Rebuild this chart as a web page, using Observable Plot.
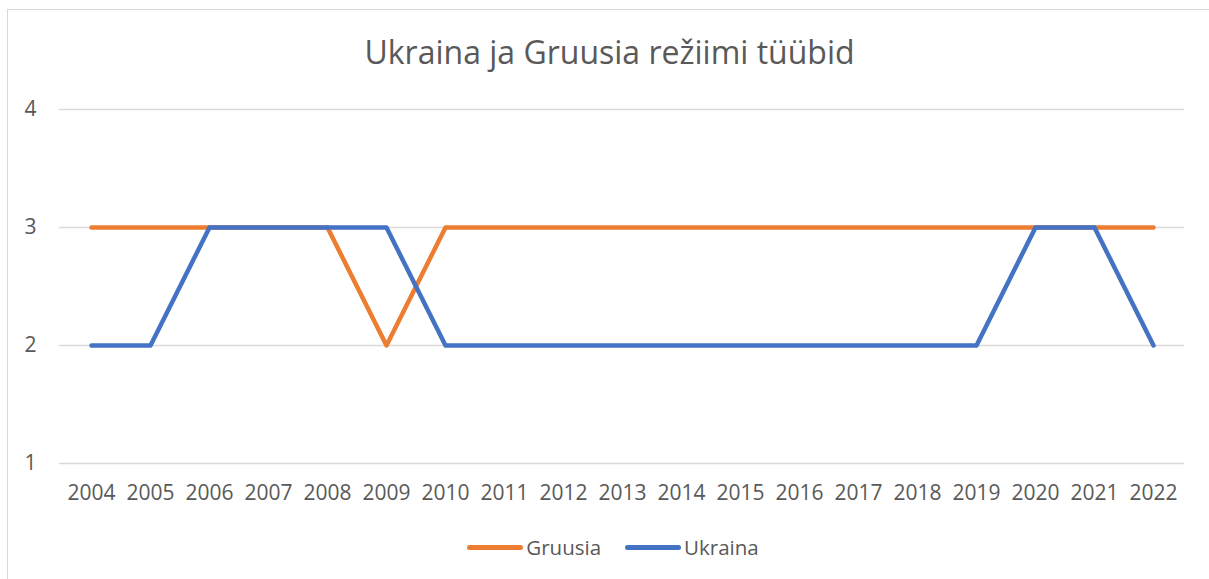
<!DOCTYPE html>
<html>
<head>
<meta charset="utf-8">
<script src="https://cdn.jsdelivr.net/npm/d3@7"></script>
<script src="https://cdn.jsdelivr.net/npm/@observablehq/plot@0.6"></script>
<style>
  html, body { margin: 0; padding: 0; background: #fff; }
  #wrap { position: relative; width: 1209px; height: 579px; overflow: hidden; font-family: "Open Sans", sans-serif; }
  #frame { position: absolute; left: 7px; top: 9px; width: 1210px; height: 600px; border: 1.5px solid #d9d9d9; box-sizing: border-box; }
  #title { position: absolute; left: 0; width: 1219px; top: 30px; text-align: center; font-size: 32px; color: #595959; }
  #chart { position: absolute; left: 0; top: 0; }
  #legend { position: absolute; top: 533px; left: 0; width: 1226px; display: flex; justify-content: center; gap: 24px; font-size: 20.5px; color: #595959; }
  .item { display: flex; align-items: center; }
  .sw { width: 56px; height: 5px; border-radius: 3px; margin-right: 3px; }
</style>
</head>
<body>
<div id="wrap">
  <div id="frame"></div>
  <div id="chart"></div>
  <div id="title">Ukraina ja Gruusia režiimi tüübid</div>
  <div id="legend"></div>
</div>
<script>
const years = ["2004","2005","2006","2007","2008","2009","2010","2011","2012","2013","2014","2015","2016","2017","2018","2019","2020","2021","2022"];
const gruusia = [3,3,3,3,3,2,3,3,3,3,3,3,3,3,3,3,3,3,3];
const ukraina = [2,2,3,3,3,3,2,2,2,2,2,2,2,2,2,2,3,3,2];
const seriesNames = ["Gruusia","Ukraina"];
const seriesColors = ["#ED7D31","#4472C4"];
const yTicks = [1,2,3,4];

const data = [];
years.forEach((y,i) => {
  data.push({year: y, value: gruusia[i], series: "Gruusia"});
  data.push({year: y, value: ukraina[i], series: "Ukraina"});
});

const chart = Plot.plot({
  width: 1209,
  height: 579,
  marginTop: 109,
  marginBottom: 116,
  marginLeft: 59,
  marginRight: 25,
  style: {fontFamily: "Open Sans, sans-serif", fontSize: "21px", color: "#595959", background: "transparent"},
  x: {type: "point", domain: years, padding: 0.5, label: null},
  y: {domain: [1,4], ticks: yTicks, label: null},
  color: {domain: seriesNames, range: seriesColors},
  marks: [
    Plot.gridY(yTicks, {stroke: "#d9d9d9", strokeOpacity: 1, strokeWidth: 1.5}),
    Plot.axisY(yTicks, {tickSize: 0, tickPadding: 23, fontSize: 21, fill: "#595959", tickFormat: d => String(d)}),
    Plot.axisX(years, {tickSize: 0, tickPadding: 22, fontSize: 21, fill: "#595959"}),
    Plot.line(data, {x: "year", y: "value", z: "series", stroke: "series", strokeWidth: 4.5, strokeLinejoin: "round", strokeLinecap: "round"})
  ]
});
document.getElementById("chart").appendChild(chart);

const legend = document.getElementById("legend");
seriesNames.forEach((n,i) => {
  const it = document.createElement("div");
  it.className = "item";
  const sw = document.createElement("div");
  sw.className = "sw";
  sw.style.background = seriesColors[i];
  const t = document.createElement("span");
  t.textContent = n;
  it.appendChild(sw); it.appendChild(t);
  legend.appendChild(it);
});
</script>
</body>
</html>
